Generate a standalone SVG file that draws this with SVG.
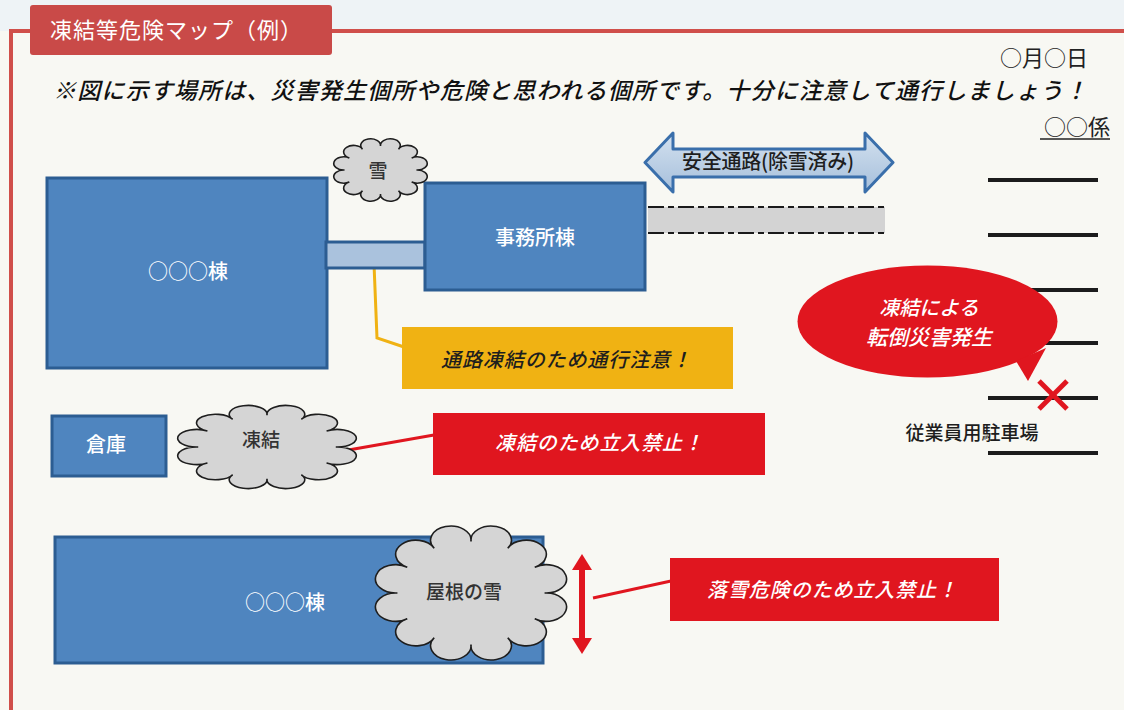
<svg xmlns="http://www.w3.org/2000/svg" width="1124" height="710" viewBox="0 0 1124 710">
<style>
.jp{font-family:"Noto Sans CJK JP","Noto Sans CJK SC",sans-serif}
.bld{fill:#4f85bf;stroke:#2c5d92;stroke-width:3}
.btxt{fill:#ffffff;font-size:20px;font-weight:500;text-anchor:middle}
.cloud{fill:#d5d5d5;stroke:#1e1e1e;stroke-width:1.6}
.ctxt{fill:#333333;font-size:19px;font-weight:500;text-anchor:middle}
.warn{fill:#e0161f}
.wtxt{fill:#ffffff;font-size:20px;font-weight:500;font-style:italic;text-anchor:middle}
.park{stroke:#1c1c1c;stroke-width:4}
.red{stroke:#e0161f;fill:none}
</style>
<defs>
<path id="cloudShape" vector-effect="non-scaling-stroke" d="M80,0 A22,22 0 1 1 69.3,40 A22,22 0 1 1 40,69.3 A22,22 0 1 1 0,80 A22,22 0 1 1 -40,69.3 A22,22 0 1 1 -69.3,40 A22,22 0 1 1 -80,0 A22,22 0 1 1 -69.3,-40 A22,22 0 1 1 -40,-69.3 A22,22 0 1 1 0,-80 A22,22 0 1 1 40,-69.3 A22,22 0 1 1 69.3,-40 A22,22 0 1 1 80,0 Z"/>
<linearGradient id="arrowGrad" x1="0" y1="0" x2="0" y2="1">
<stop offset="0" stop-color="#d3e1ef"/>
<stop offset="1" stop-color="#a6bfdb"/>
</linearGradient>
</defs>

<!-- background -->
<rect x="0" y="0" width="1124" height="710" fill="#f8f8f3"/>
<rect x="0" y="0" width="1124" height="31" fill="#eef3f6"/>

<!-- frame -->
<g id="frame">
<line x1="10" y1="31" x2="1124" y2="31" stroke="#d04f4a" stroke-width="4"/>
<line x1="11" y1="29" x2="11" y2="710" stroke="#d04f4a" stroke-width="4"/>
<rect x="30" y="5" width="302" height="50" rx="3" fill="#c94a48"/>
<text class="jp" x="50" y="38" font-size="22" fill="#ffffff" textLength="252" lengthAdjust="spacing">凍結等危険マップ（例）</text>
</g>

<!-- header texts -->
<g id="header">
<text class="jp" x="1088" y="66" font-size="22" fill="#222" text-anchor="end">○月○日</text>
<text class="jp" x="53" y="99" font-size="23" font-weight="500" fill="#111" font-style="italic" textLength="1034" lengthAdjust="spacing">※図に示す場所は、災害発生個所や危険と思われる個所です。十分に注意して通行しましょう！</text>
<text class="jp" x="1110" y="135" font-size="22" fill="#222" text-anchor="end">○○係</text>
<line x1="1040" y1="139" x2="1110" y2="139" stroke="#222" stroke-width="1.5"/>
</g>

<!-- road -->
<g id="road">
<rect x="648" y="207" width="237" height="26" fill="#d3d3d3"/>
<line x1="648" y1="207" x2="885" y2="207" stroke="#1a1a1a" stroke-width="2" stroke-dasharray="16 4 6 4"/>
<line x1="648" y1="233" x2="885" y2="233" stroke="#1a1a1a" stroke-width="2" stroke-dasharray="16 4 6 4"/>
</g>

<!-- parking lines -->
<g id="parking">
<line class="park" x1="988" y1="180" x2="1098" y2="180"/>
<line class="park" x1="988" y1="235" x2="1098" y2="235"/>
<line class="park" x1="988" y1="290" x2="1098" y2="290"/>
<line class="park" x1="988" y1="343" x2="1098" y2="343"/>
<line class="park" x1="988" y1="398" x2="1098" y2="398"/>
<line class="park" x1="988" y1="453" x2="1098" y2="453"/>
<text class="jp" x="972" y="440" font-size="19" font-weight="500" fill="#1e1e1e" text-anchor="middle">従業員用駐車場</text>
</g>

<!-- connectors -->
<g id="connectors">
<polyline points="374,264 377,338 404,347" fill="none" stroke="#f0b213" stroke-width="3"/>
<line class="red" x1="320" y1="455" x2="434" y2="435" stroke-width="3"/>
<line class="red" x1="593" y1="598" x2="671" y2="581" stroke-width="3"/>
</g>

<g id="building-main">
<rect class="bld" x="47" y="178" width="280" height="190"/>
<text class="jp btxt" x="188" y="279">○○○棟</text>
</g>

<g id="corridor">
<rect x="326" y="242" width="99" height="26" fill="#aac2dd" stroke="#2c5d92" stroke-width="3"/>
</g>

<g id="office">
<rect class="bld" x="425" y="183" width="220" height="107"/>
<text class="jp btxt" x="535" y="245">事務所棟</text>
</g>

<g id="cloud-snow">
<use href="#cloudShape" class="cloud" transform="translate(380.5,170) scale(0.45,0.30)"/>
<text class="jp ctxt" x="378" y="178" font-size="18">雪</text>
</g>

<g id="safe-route">
<polygon points="645,162.5 673,133 673,149 865,149 865,133 893,162.5 865,192 865,177 673,177 673,192" fill="url(#arrowGrad)" stroke="#3a6fab" stroke-width="3" stroke-linejoin="round"/>
<text class="jp" x="768" y="169" font-size="20" font-weight="500" fill="#1e1e1e" text-anchor="middle" textLength="172" lengthAdjust="spacing">安全通路(除雪済み)</text>
</g>

<g id="caution-corridor">
<rect x="402" y="327" width="331" height="62" fill="#f0b213"/>
<text class="jp" x="566" y="367" font-size="20" font-weight="500" fill="#1e1e1e" font-style="italic" text-anchor="middle" textLength="250" lengthAdjust="spacing">通路凍結のため通行注意！</text>
</g>

<g id="bubble">
<ellipse cx="927.5" cy="321.5" rx="130" ry="56" class="warn"/>
<polygon points="1016,361 1028,381 1046,348" class="warn"/>
<text class="jp" x="929" y="315" font-size="20" font-weight="500" fill="#fff" font-style="italic" text-anchor="middle">凍結による</text>
<text class="jp" x="929" y="345" font-size="21" font-weight="500" fill="#fff" font-style="italic" text-anchor="middle">転倒災害発生</text>
</g>

<g id="cross">
<line class="red" x1="1039" y1="381" x2="1067" y2="409" stroke-width="5"/>
<line class="red" x1="1067" y1="381" x2="1039" y2="409" stroke-width="5"/>
</g>

<g id="warehouse">
<rect class="bld" x="52" y="416" width="114" height="60"/>
<text class="jp btxt" x="106" y="452">倉庫</text>
</g>

<g id="cloud-freeze">
<use href="#cloudShape" class="cloud" transform="translate(267,447) scale(0.86,0.40)"/>
<text class="jp ctxt" x="261" y="447">凍結</text>
</g>

<g id="warn-freeze">
<rect x="433" y="413" width="332" height="62" class="warn"/>
<text class="jp wtxt" x="599" y="450" textLength="208" lengthAdjust="spacing">凍結のため立入禁止！</text>
</g>

<g id="building-bottom">
<rect class="bld" x="55" y="537" width="488" height="126"/>
<text class="jp btxt" x="285" y="610">○○○棟</text>
</g>

<g id="cloud-roof">
<use href="#cloudShape" class="cloud" transform="translate(471,593) scale(0.92,0.645)"/>
<text class="jp ctxt" x="464" y="599">屋根の雪</text>
</g>

<g id="fall-arrow">
<line x1="582" y1="566" x2="582" y2="642" stroke="#e0161f" stroke-width="6"/>
<polygon points="582,554 592,570 572,570" class="warn"/>
<polygon points="582,654 592,638 572,638" class="warn"/>
</g>

<g id="warn-roof">
<rect x="670" y="558" width="329" height="63" class="warn"/>
<text class="jp wtxt" x="832" y="597" textLength="250" lengthAdjust="spacing">落雪危険のため立入禁止！</text>
</g>
</svg>
